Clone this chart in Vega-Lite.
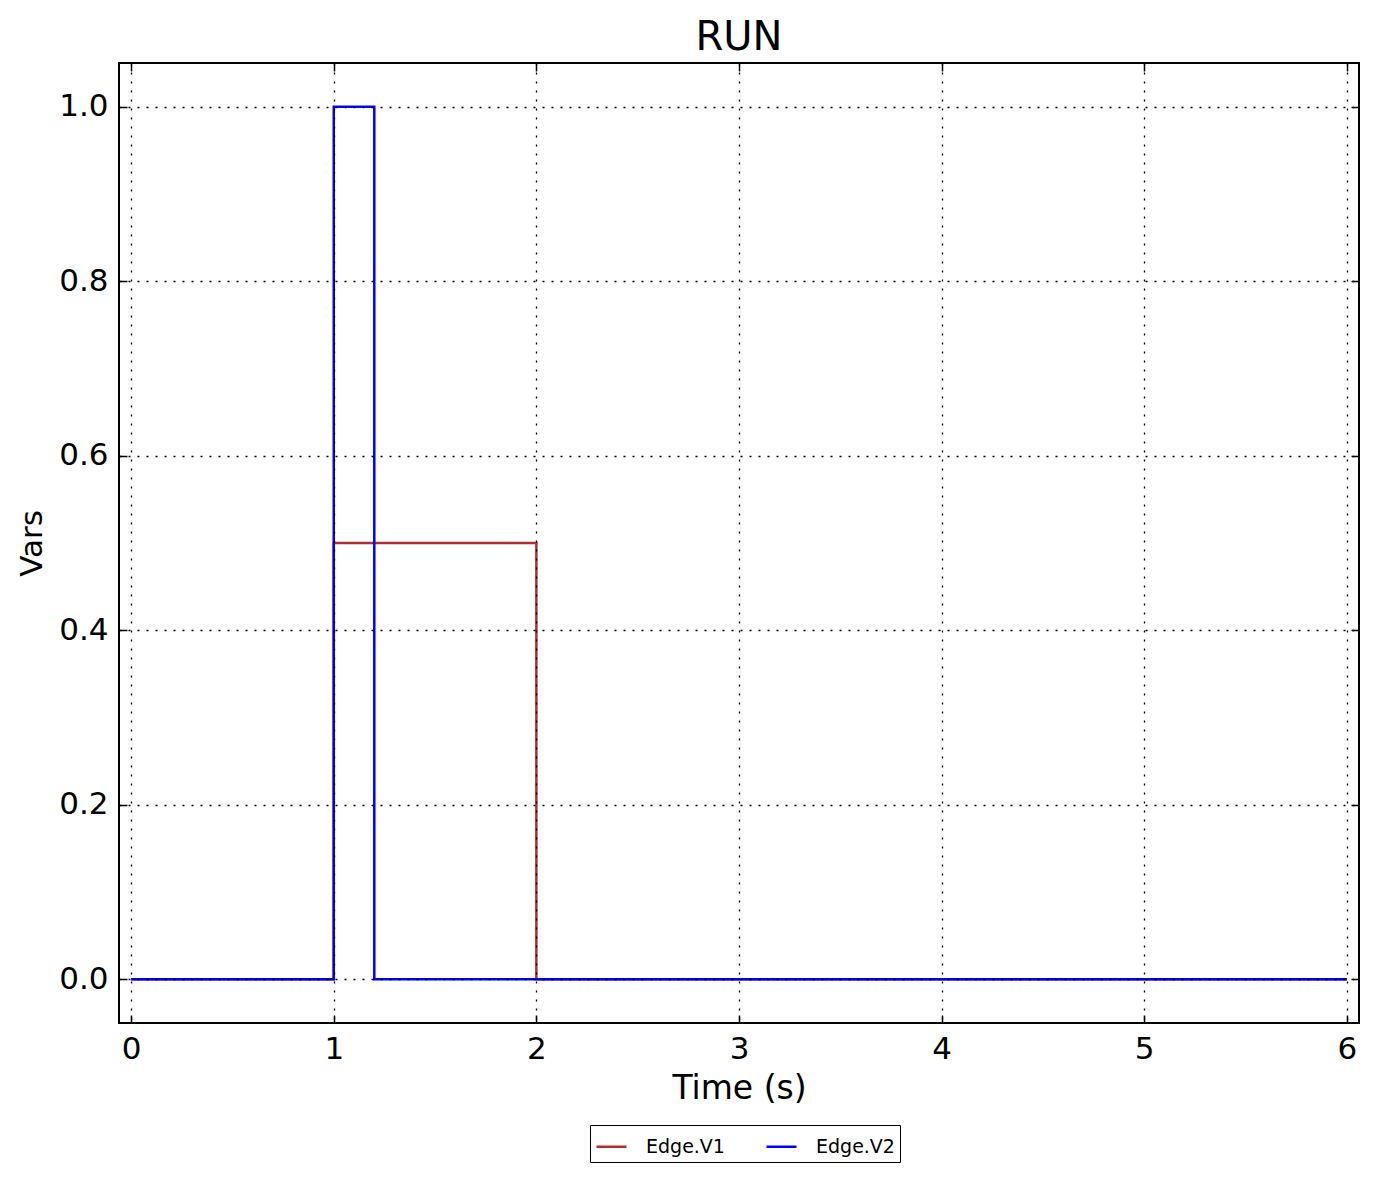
{
  "$schema": "https://vega.github.io/schema/vega-lite/v6.json",
  "autosize": "none",
  "width": 1240,
  "height": 960,
  "padding": {"left": 119, "top": 63, "right": 20, "bottom": 160},
  "background": "white",
  "config": {
    "font": "DejaVu Sans",
    "view": {"stroke": "black", "strokeWidth": 2},
    "title": {"fontSize": 40, "fontWeight": "normal", "color": "black", "offset": 4}
  },
  "title": "RUN",
  "data": {"values": [
    {"t": 0, "v": 0, "s": "Edge.V1"},
    {"t": 1, "v": 0.5, "s": "Edge.V1"},
    {"t": 2, "v": 0, "s": "Edge.V1"},
    {"t": 6, "v": 0, "s": "Edge.V1"},
    {"t": 0, "v": 0, "s": "Edge.V2"},
    {"t": 1, "v": 1, "s": "Edge.V2"},
    {"t": 1.2, "v": 0, "s": "Edge.V2"},
    {"t": 6, "v": 0, "s": "Edge.V2"}
  ]},
  "layer": [
    {
      "mark": {"type": "line", "interpolate": "step-after", "strokeWidth": 2.5, "clip": true},
      "encoding": {
        "x": {"field": "t", "type": "quantitative", "title": "Time (s)",
          "scale": {"domain": [-0.06, 6.06], "nice": false, "zero": false},
          "axis": {"values": [0,1,2,3,4,5,6], "format": "d", "orient": "bottom", "domain": false,
            "grid": true, "gridColor": "black", "gridDash": [2, 7], "gridWidth": 1.3, "gridOpacity": 1,
            "tickSize": -8, "tickColor": "black", "tickWidth": 1.5, "labelPadding": 19,
            "labelFontSize": 31, "labelColor": "black", "titleFontSize": 33, "titleFontWeight": "normal",
            "titleColor": "black", "titlePadding": 8, "labelFlush": false, "zindex": 1}},
        "y": {"field": "v", "type": "quantitative", "title": "Vars",
          "scale": {"domain": [-0.05, 1.05], "nice": false, "zero": false},
          "axis": {"values": [0,0.2,0.4,0.6,0.8,1.0], "format": ".1f", "orient": "left", "domain": false,
            "grid": true, "gridColor": "black", "gridDash": [2, 7], "gridWidth": 1.3, "gridOpacity": 1,
            "tickSize": -8, "tickColor": "black", "tickWidth": 1.5, "labelPadding": 19,
            "labelFontSize": 31, "labelColor": "black", "titleFontSize": 31, "titleFontWeight": "normal",
            "titleColor": "black", "titlePadding": 10, "labelFlush": false, "zindex": 1}},
        "color": {"field": "s", "type": "nominal", "title": null,
          "scale": {"domain": ["Edge.V1", "Edge.V2"], "range": ["#b22d2d", "#0000ff"]},
          "legend": {"orient": "none", "legendX": 471, "legendY": 1062, "direction": "horizontal", "symbolType": "stroke",
            "symbolSize": 900, "symbolStrokeWidth": 2.5, "labelFontSize": 19, "labelColor": "black",
            "strokeColor": "black", "padding": 5, "columnPadding": 36, "labelOffset": 18,
            "fillColor": "white"}}
      }
    },
    {
      "mark": {"type": "point", "opacity": 0},
      "encoding": {
        "x": {"field": "t", "type": "quantitative",
          "scale": {"domain": [-0.06, 6.06], "nice": false, "zero": false},
          "axis": {"values": [0,1,2,3,4,5,6], "orient": "top", "domain": false, "grid": false, "labels": false,
            "title": null, "tickSize": -8, "tickColor": "black", "tickWidth": 1.5}},
        "y": {"field": "v", "type": "quantitative",
          "scale": {"domain": [-0.05, 1.05], "nice": false, "zero": false},
          "axis": {"values": [0,0.2,0.4,0.6,0.8,1.0], "orient": "right", "domain": false, "grid": false, "labels": false,
            "title": null, "tickSize": -8, "tickColor": "black", "tickWidth": 1.5}}
      }
    }
  ],
  "resolve": {"scale": {"x": "independent", "y": "independent"}, "axis": {"x": "independent", "y": "independent"}}
}
